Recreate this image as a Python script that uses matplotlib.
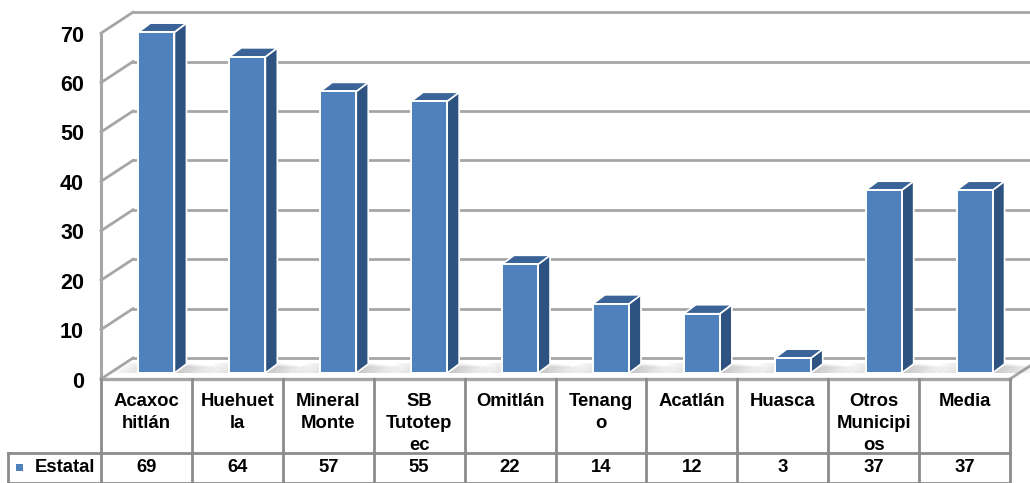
import matplotlib
matplotlib.use("Agg")
import matplotlib.pyplot as plt
from matplotlib.patches import Polygon, Rectangle
from matplotlib.lines import Line2D

categories = ["Acaxoc\nhitlán", "Huehuet\nla", "Mineral\nMonte", "SB\nTutotep\nec", "Omitlán",
              "Tenang\no", "Acatlán", "Huasca", "Otros\nMunicipi\nos", "Media"]
values = [69, 64, 57, 55, 22, 14, 12, 3, 37, 37]
series_name = "Estatal"
yticks = [0, 10, 20, 30, 40, 50, 60, 70]

W, H = 1030, 483
FONT = "Liberation Sans"
GRID = "#a6a6a6"
FRONT, SIDE, TOP = "#4f81bd", "#2f5381", "#3a6397"

fig = plt.figure(figsize=(W / 100, H / 100), dpi=100, facecolor="white")
# front plane: x 101..1010 px, value 0 at y=379 px, 4.94 px per unit
left, right, base = 101, 1010, 379
ppu = 4.94
ax = fig.add_axes([left / W, 1 - base / H, (right - left) / W, 70 * ppu / H])
ax.set_xlim(-0.5, 9.5)
ax.set_ylim(0, 70)
ax.axis("off")
px = (right - left) / 10   # px per category


def X(p):
    return p / px


def Y(p):
    return p / ppu


def poly(pts, **kw):
    kw.setdefault("clip_on", False)
    ax.add_patch(Polygon(pts, closed=True, **kw))


# wall depth in px
wx, wy = X(32), Y(21)
x0, x1 = -0.5, 9.5

# gridlines on back wall and side wall
for v in yticks:
    ax.add_line(Line2D([x0, x0 + wx], [v, v + wy], color=GRID, lw=2.0, clip_on=False, zorder=2))
    ax.add_line(Line2D([x0 + wx, x1 + wx], [v + wy, v + wy], color=GRID, lw=2.0, clip_on=False, zorder=2))
ax.add_line(Line2D([x0, x0], [0, 70], color=GRID, lw=2.2, clip_on=False, zorder=2))
ax.add_line(Line2D([x1, x1 + wx], [0, wy], color=GRID, lw=2.0, clip_on=False, zorder=2))

# bars
bw = X(36)
bshift = X(10)
bz = Y(6)
dx, dy = X(12), Y(9)
for i, v in enumerate(values):
    l = i + bshift - bw / 2
    r = l + bw
    # soft floor shadows either side of the bar
    fy = Y(17)
    for k in range(4, 44, 5):
        poly([(r, bz), (r + X(k), bz), (r + X(k + 5), fy - Y(k * 0.12)), (r + dx, fy - Y(k * 0.12))],
             fc="#6f6f6f", alpha=0.055, ec="none", zorder=3)
    for k in range(3, 27, 6):
        poly([(l, bz), (l - X(k + 6), bz), (l - X(k - 8), fy - Y(1)), (l + X(4), fy - Y(1))],
             fc="#7f7f7f", alpha=0.05, ec="none", zorder=3)
    poly([(r, bz), (r + dx, bz + dy), (r + dx, bz + dy + v), (r, bz + v)],
         fc=SIDE, ec="white", lw=1.2, zorder=4)
    poly([(l, bz + v), (r, bz + v), (r + dx, bz + v + dy), (l + dx, bz + v + dy)],
         fc=TOP, ec="white", lw=1.2, zorder=4)
    ax.add_patch(Rectangle((l, bz), bw, v, fc=FRONT, ec="white", lw=1.4, clip_on=False, zorder=5))

# y tick labels
for v in yticks:
    ax.text(x0 - X(17), v - Y(3), str(v), ha="right", va="center", fontsize=15.5, fontweight="bold",
            family=FONT, clip_on=False)

# data table
row1 = -Y(74)
row2 = -Y(104)
lab = x0 - X(93)
tk = dict(color="#8c8c8c", lw=2.0, clip_on=False, zorder=6)
ax.add_line(Line2D([x0, x1], [0, 0], **{**tk, "color": GRID, "lw": 2.4}))
ax.add_line(Line2D([lab, x1], [row1, row1], **tk))
ax.add_line(Line2D([lab, x1], [row2, row2], **tk))
ax.add_line(Line2D([lab, lab], [row1, row2], **tk))
for i in range(11):
    ax.add_line(Line2D([i - 0.5, i - 0.5], [0, row2], **tk))
for i, (c, v) in enumerate(zip(categories, values)):
    ax.text(i, -Y(14), c, ha="center", va="top", fontsize=13.3, fontweight="bold", family=FONT,
            linespacing=1.4, clip_on=False)
    ax.text(i, -Y(89), str(v), ha="center", va="center", fontsize=13.3, fontweight="bold", family=FONT,
            clip_on=False)
ax.text(x0 - X(6), -Y(89), series_name, ha="right", va="center", fontsize=13.3, fontweight="bold",
        family=FONT, clip_on=False)
ax.add_patch(Rectangle((lab + X(8), -Y(92)), X(7), Y(7), fc=FRONT, ec="none", clip_on=False, zorder=6))

fig.savefig("out.png", dpi=100, facecolor="white")
